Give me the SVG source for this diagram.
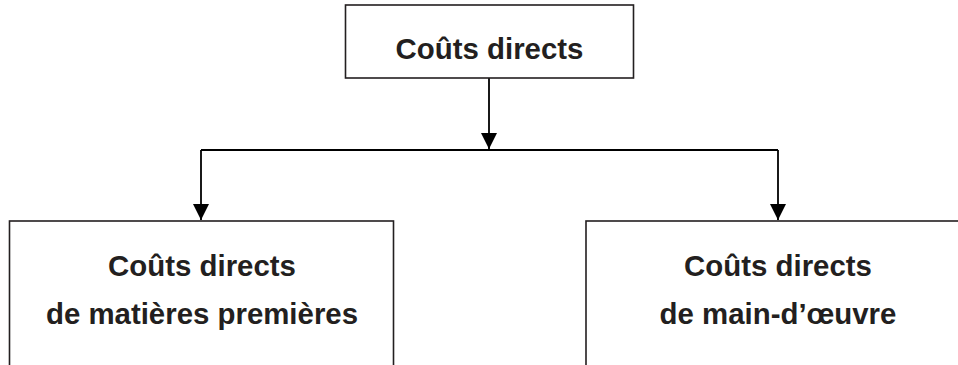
<svg xmlns="http://www.w3.org/2000/svg" width="958" height="365" viewBox="0 0 958 365">
  <style>
    .box { fill: #ffffff; stroke: #231f20; stroke-width: 1.6; }
    .lbl { font-family: "Liberation Sans", Arial, sans-serif; font-weight: bold; font-size: 29.4px; fill: #231f20; text-anchor: middle; }
    .wire { fill: none; stroke: #000000; stroke-width: 1.8; }
  </style>
  <defs>
    <marker id="arrow" markerUnits="userSpaceOnUse" markerWidth="16" markerHeight="16" refX="16" refY="8" orient="auto">
      <path d="M0,0 L16,8 L0,16 Z" fill="#000000"/>
    </marker>
  </defs>

  <g id="connectors">
    <!-- trunk from the parent box to the distribution bar -->
    <line class="wire" x1="489" y1="78" x2="489" y2="149" marker-end="url(#arrow)"/>
    <!-- distribution bar -->
    <line class="wire" x1="201" y1="150" x2="778" y2="150"/>
    <!-- branches down to each child box -->
    <line class="wire" x1="201" y1="150" x2="201" y2="220" marker-end="url(#arrow)"/>
    <line class="wire" x1="778" y1="150" x2="778" y2="220" marker-end="url(#arrow)"/>
  </g>

  <g id="couts-directs">
    <rect class="box" x="345.5" y="5" width="288" height="73"/>
    <text class="lbl" x="489.5" y="58.5">Coûts directs</text>
  </g>

  <g id="matieres-premieres">
    <rect class="box" x="9.5" y="221" width="384" height="160"/>
    <text class="lbl" x="202" y="275.5">Coûts directs</text>
    <text class="lbl" x="202" y="323.5">de matières premières</text>
  </g>

  <g id="main-oeuvre">
    <rect class="box" x="586" y="221" width="390" height="160"/>
    <text class="lbl" x="778" y="276">Coûts directs</text>
    <text class="lbl" x="778" y="324">de main-d’œuvre</text>
  </g>
</svg>
